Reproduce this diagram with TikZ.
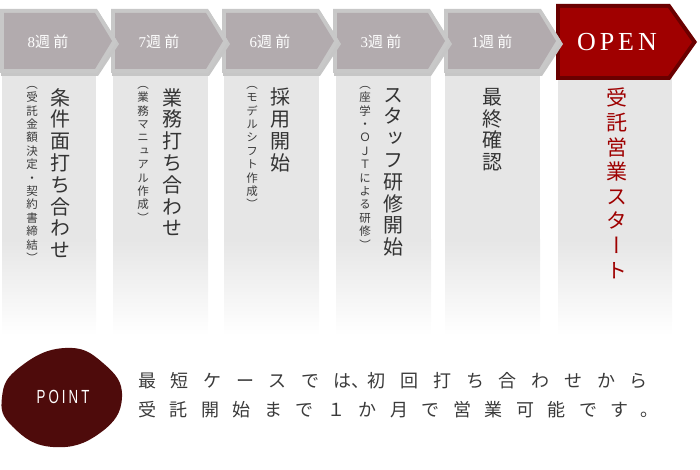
\documentclass[tikz,border=0pt]{standalone}
\usepackage{fontspec}
\setmainfont{Liberation Serif}
\newfontfamily\jpfont{Noto Sans CJK JP}
\newfontfamily\tatefont[RawFeature=+vert]{Noto Sans CJK JP}
\newfontfamily\openfont[LetterSpace=15]{Liberation Serif}
\newfontfamily\pointfont[FakeStretch=0.7,LetterSpace=16]{Liberation Sans}
\newfontfamily\notefont[LetterSpace=75]{Noto Sans CJK JP}
\newfontfamily\notefontwide[LetterSpace=82]{Noto Sans CJK JP}
\usetikzlibrary{positioning}

\definecolor{edgegray}{HTML}{C8C8C8}
\definecolor{facegray}{HTML}{B2ABAE}
\definecolor{edgered}{HTML}{6A0000}
\definecolor{facered}{HTML}{A00000}
\definecolor{panelgray}{HTML}{E6E6E6}
\definecolor{maintext}{HTML}{333333}
\definecolor{subtext}{HTML}{3A3A3A}
\definecolor{startred}{HTML}{9E0000}
\definecolor{blobred}{HTML}{4E0B0B}

\begin{document}
\begin{tikzpicture}[
      x=1pt, y=-1pt,
      weektext/.style={
        text=white,
        inner sep=0pt,
        font=\fontsize{15}{17}\selectfont
      },
      tatemain/.style={
        anchor=north,
        align=center,
        inner sep=0pt,
        text=maintext,
        font=\fontsize{20}{21.8}\selectfont\tatefont
      },
      tatesub/.style={
        anchor=north,
        align=center,
        inner sep=0pt,
        text=subtext,
        font=\fontsize{11.5}{13.4}\selectfont\tatefont
      },
      notetext/.style={
        anchor=west,
        inner sep=0pt,
        text=subtext,
        font=\fontsize{18}{20}\selectfont\notefont
      }
    ]
    \useasboundingbox (0,0) rectangle (700,470);

    % Panels
    \foreach \a/\b in {2/96,113/208,224/319,336/431,445/540,558/672} {
      \fill[panelgray] (\a,73) rectangle (\b,240);
      \shade[top color=panelgray, bottom color=white] (\a,239.5) rectangle (\b,335);
    }

    % OPEN arrow
    \fill[edgered] (556,4) -- (670,4) -- (697,42) -- (670,80) -- (556,80) -- cycle;
    \fill[facered] (560,8) -- (668,8) -- (692,42) -- (668,76) -- (560,76) -- cycle;
    \node[text=white, inner sep=0pt, font=\fontsize{26}{28}\selectfont\openfont] (open) at (617,42) {OPEN};

    % Week arrows
    \foreach \x/\w/\nm in {444/1/w1, 333/3/w3, 222/6/w6, 111/7/w7, 0/8/w8} {
      \fill[gray!45] (\x+1,11) -- ++(97,0) -- ++(21,33) -- ++(-21,32) -- ++(-97,0) -- cycle;
      \fill[edgegray] (\x,9) -- ++(97,0) -- ++(20,32) -- ++(-20,32) -- ++(-97,0) -- cycle;
      \fill[facegray] (\x+4,13) -- ++(91,0) -- ++(17,28) -- ++(-17,28) -- ++(-91,0) -- cycle;
      \node[weektext] (\nm) at (\x+48,42) {\w{\jpfont 週 前}};
    }

    % Column 1
    \node[tatemain] (c1) at (60,88) {条\\件\\面\\打\\ち\\合\\わ\\せ};
    \node[tatesub] (s1) at (32,86) {（\\受\\託\\金\\額\\決\\定\\・\\契\\約\\書\\締\\結\\）};

    % Column 2
    \node[tatemain] (c2) at (172,88) {業\\務\\打\\ち\\合\\わ\\せ};
    \node[tatesub] (s2) at (143,86) {（\\業\\務\\マ\\ニ\\ュ\\ア\\ル\\作\\成\\）};

    % Column 3
    \node[tatemain] (c3) at (280,88) {採\\用\\開\\始};
    \node[tatesub] (s3) at (252,86) {（\\モ\\デ\\ル\\シ\\フ\\ト\\作\\成\\）};

    % Column 4
    \node[tatemain] (c4) at (393,88) {ス\\タ\\ッ\\フ\\研\\修\\開\\始};
    \node[tatesub] (s4) at (365,86) {（\\座\\学\\・\\Ｏ\\Ｊ\\Ｔ\\に\\よ\\る\\研\\修\\）};

    % Column 5
    \node[tatemain] (c5) at (492,88) {最\\終\\確\\認};

    % Column 6
    \node[tatemain, text=startred, font=\fontsize{21}{24.6}\selectfont\tatefont] (c6) at (617,88)
      {受\\託\\営\\業\\ス\\タ\\ー\\ト};

    % Point
    \fill[blobred] plot[smooth cycle, tension=0.8] coordinates
      {(65,348) (103,363) (122,397) (100,433) (53,447) (13,427) (2,397) (20,367)};
    \node[text=white, inner sep=0pt, font=\fontsize{19}{21}\selectfont\pointfont] (point) at (63,397) {POINT};

    \node[notetext, font=\fontsize{18}{20}\selectfont\notefontwide] (note1) at (138,381)
      {最短ケースでは\makebox[16pt][l]{、}初回打ち合わせから};
    \node[notetext] (note2) at (138,410) {受託開始まで１か月で営業可能です。};
  \end{tikzpicture}
\end{document}
